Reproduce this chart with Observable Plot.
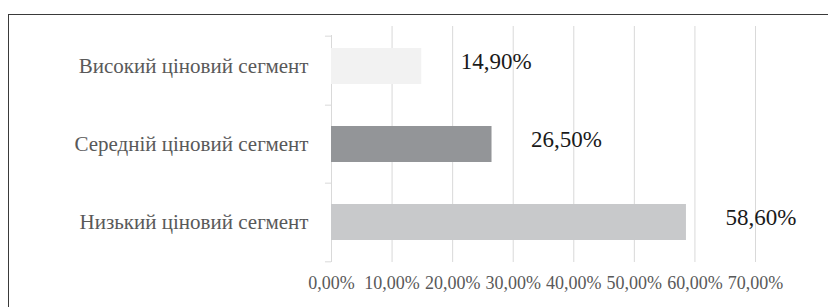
<!DOCTYPE html>
<html><head><meta charset="utf-8">
<script src="https://cdn.jsdelivr.net/npm/d3@7"></script>
<script src="https://cdn.jsdelivr.net/npm/@observablehq/plot@0.6"></script>
<style>
html,body{margin:0;padding:0;background:#fff;width:828px;height:307px;overflow:hidden;}
#frame{position:absolute;left:8px;top:14px;width:900px;height:400px;border-left:1px solid #3a3a3a;border-top:1px solid #3a3a3a;}
#chart{position:absolute;left:0;top:0;}
#chart svg, #chart svg text{font-family:"Liberation Serif","Times New Roman",serif;text-rendering:optimizeLegibility;}
</style></head><body>
<div id="frame"></div>
<div id="chart"></div>
<script>
const categories = ["Високий ціновий сегмент", "Середній ціновий сегмент", "Низький ціновий сегмент"];
const shares = [14.9, 26.5, 58.6];
const barColors = ["#f2f2f2", "#939598", "#c8c9cb"];
const xTicks = [0, 10, 20, 30, 40, 50, 60, 70];
const gridTicks = xTicks.slice(1);

const data = categories.map((c, i) => ({category: c, value: shares[i], color: barColors[i]}));
const fmt = v => v.toFixed(2).replace(".", ",") + "%";

const W = 828, H = 307, mT = 26, mB = 45, mL = 331, mR = 73;
const step = (H - mT - mB) / categories.length;
const serif = "Liberation Serif";

const chart = Plot.plot({
  width: W, height: H,
  marginTop: mT, marginBottom: mB, marginLeft: mL, marginRight: mR,
  style: {background: "transparent", overflow: "visible"},
  x: {domain: [0, 70], axis: null},
  y: {domain: categories, paddingInner: 0.535, paddingOuter: 0.2675, axis: null},
  marks: [
    Plot.ruleX(gridTicks, {stroke: "#d9d9d9", strokeWidth: 1}),
    Plot.ruleX([0], {stroke: "#d9d9d9", strokeWidth: 1, insetTop: 9}),
    Plot.ruleY(data.slice(0, 1), {y: "category", x1: -1, x2: 0, stroke: "#d9d9d9", dy: -step / 2 + 9}),
    Plot.ruleY(data.slice(1), {y: "category", x1: -1, x2: 0, stroke: "#d9d9d9", dy: -step / 2}),
    Plot.ruleY(data.slice(-1), {y: "category", x1: -1, x2: 0, stroke: "#d9d9d9", dy: step / 2}),
    Plot.barX(data, {y: "category", x: "value", fill: "color"}),
    Plot.text(data, {y: "category", x: 0, text: "category", textAnchor: "end", dx: -23, fontSize: 21, fontFamily: serif, fill: "#595959"}),
    Plot.text(data, {y: "category", x: "value", text: d => fmt(d.value), textAnchor: "start", dx: 39, dy: -5, fontSize: 23, fontFamily: serif, fill: "#1a1a1a"}),
    Plot.text(xTicks, {x: d => d, text: d => fmt(d), frameAnchor: "bottom", lineAnchor: "top", dy: 14, fontSize: 18, fontFamily: serif, fill: "#595959"})
  ]
});
document.getElementById("chart").appendChild(chart);
</script>
</body></html>
